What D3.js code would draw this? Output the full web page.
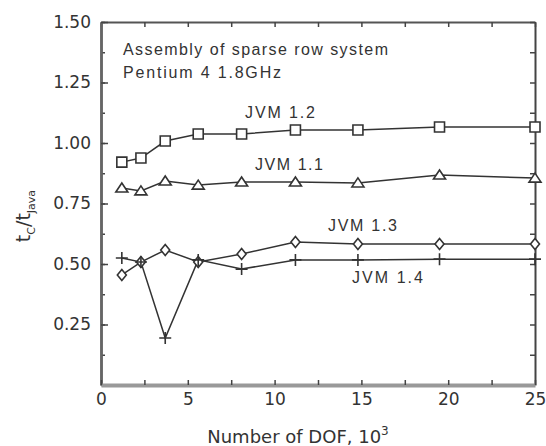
<!DOCTYPE html>
<html>
<head>
<meta charset="utf-8">
<script src="https://cdn.jsdelivr.net/npm/d3@7"></script>
<style>
  body { margin: 0; background: #fff; }
  text { font-family: "DejaVu Sans", "Liberation Sans", Arial, sans-serif; fill: #333; }
  .lab { font-family: "Liberation Sans", Arial, sans-serif; }
</style>
</head>
<body>
<svg id="chart" width="546" height="446"></svg>
<script>
// data (DOF in thousands)
const dof = [1.2, 2.3, 3.7, 5.6, 8.1, 11.2, 14.8, 19.5, 25];
const jvm12 = [0.921, 0.938, 1.008, 1.037, 1.037, 1.054, 1.054, 1.066, 1.066];
const jvm11 = [0.814, 0.802, 0.843, 0.826, 0.839, 0.839, 0.835, 0.868, 0.855];
const jvm13 = [0.455, 0.508, 0.558, 0.508, 0.541, 0.591, 0.583, 0.583, 0.583];
const jvm14 = [0.525, 0.508, 0.194, 0.517, 0.479, 0.517, 0.517, 0.52, 0.52];
const xTicks = [0, 5, 10, 15, 20, 25];
const yTicks = [0.25, 0.5, 0.75, 1.0, 1.25, 1.5];

const series = [
  { name: "JVM 1.2", values: jvm12, symbol: "square", label: [245, 118], w: 70 },
  { name: "JVM 1.1", values: jvm11, symbol: "triangle", label: [255, 170], w: 68 },
  { name: "JVM 1.3", values: jvm13, symbol: "diamond", label: [328, 231], w: 69 },
  { name: "JVM 1.4", values: jvm14, symbol: "plus", label: [352, 283], w: 71 },
];

const svg = d3.select("#chart");
const margin = { left: 101, right: 11, top: 22, bottom: 61 };
const width = 546 - margin.left - margin.right;
const height = 446 - margin.top - margin.bottom;

const x = d3.scaleLinear().domain([0, 25]).range([0, width]);
const y = d3.scaleLinear().domain([0, 1.5]).range([height, 0]);

const g = svg.append("g")
  .attr("transform", "translate(" + margin.left + "," + margin.top + ")");

// minor ticks every 2.5 / 0.125
const xMinor = d3.range(0, 25.01, 2.5);
const yMinor = d3.range(0, 1.501, 0.125);

function styleAxis(sel, col, w) {
  sel.select(".domain").attr("stroke", col).attr("stroke-width", w);
  sel.selectAll(".tick line").attr("stroke", "#444").attr("stroke-width", 1.5);
}

// top
g.append("g")
  .call(d3.axisTop(x).tickValues(xMinor).tickSize(-5).tickSizeOuter(0).tickFormat(""))
  .call(styleAxis, "#555", 2);
// right
g.append("g")
  .attr("transform", "translate(" + width + ",0)")
  .call(d3.axisRight(y).tickValues(yMinor).tickSize(-5).tickSizeOuter(0).tickFormat(""))
  .call(styleAxis, "#444", 2);
// left minor
g.append("g")
  .call(d3.axisLeft(y).tickValues(yMinor).tickSize(-4).tickSizeOuter(0).tickFormat(""))
  .call(styleAxis, "#666", 2.5);
// left major with labels
const yAxis = g.append("g")
  .call(d3.axisLeft(y).tickValues(yTicks).tickSize(-7).tickSizeOuter(0)
    .tickFormat(d3.format(".2f")).tickPadding(10))
  .call(styleAxis, "#666", 2.5);
yAxis.selectAll("text").attr("font-size", 17).attr("fill", "#333")
  .style("font-family", "'DejaVu Sans', sans-serif");
// bottom minor
g.append("g")
  .attr("transform", "translate(0," + height + ")")
  .call(d3.axisBottom(x).tickValues(xMinor).tickSize(-5).tickSizeOuter(0).tickFormat(""))
  .call(styleAxis, "#999", 4);
// bottom labels
const xAxis = g.append("g")
  .attr("transform", "translate(0," + height + ")")
  .call(d3.axisBottom(x).tickValues(xTicks).tickSize(0).tickPadding(8));
xAxis.select(".domain").remove();
xAxis.selectAll("text").attr("font-size", 17).attr("fill", "#333")
  .style("font-family", "'DejaVu Sans', sans-serif");

// axis titles
const xt = svg.append("text")
  .attr("x", 298).attr("y", 443)
  .attr("text-anchor", "middle")
  .attr("font-size", 18);
xt.append("tspan").text("Number of DOF, 10");
xt.append("tspan").attr("font-size", 12).attr("dy", -8).text("3");

const yt = svg.append("text")
  .attr("transform", "translate(30,216) rotate(-90)")
  .attr("text-anchor", "middle")
  .attr("font-size", 19);
yt.append("tspan").text("t");
yt.append("tspan").attr("font-size", 11).attr("dy", 5).text("C");
yt.append("tspan").attr("dy", -5).text("/t");
yt.append("tspan").attr("font-size", 11).attr("dy", 5).text("Java");

// annotation
svg.append("text").attr("class", "lab").attr("x", 123).attr("y", 55).attr("font-size", 16)
  .attr("textLength", 265).attr("lengthAdjust", "spacing")
  .text("Assembly of sparse row system");
svg.append("text").attr("class", "lab").attr("x", 123).attr("y", 78).attr("font-size", 16)
  .attr("textLength", 158).attr("lengthAdjust", "spacing")
  .text("Pentium 4 1.8GHz");

// lines
const line = d3.line()
  .x(function (d, i) { return x(dof[i]); })
  .y(function (d) { return y(d); });

series.forEach(function (s) {
  g.append("path")
    .datum(s.values)
    .attr("fill", "none")
    .attr("stroke", "#333")
    .attr("stroke-width", 1.5)
    .attr("d", line);
});

// markers
const symbols = {
  square: "M-5,-5H5V5H-5Z",
  triangle: "M0,-5L6,4H-6Z",
  diamond: "M0,-5.5L4.5,0L0,5.5L-4.5,0Z",
  plus: "M-6,0H6M0,-6V6",
};

series.forEach(function (s) {
  g.append("g")
    .selectAll(null)
    .data(s.values)
    .enter()
    .append("path")
    .attr("transform", function (d, i) {
      return "translate(" + x(dof[i]) + "," + y(d) + ")";
    })
    .attr("d", symbols[s.symbol])
    .attr("fill", s.symbol == "plus" ? "none" : "#fff")
    .attr("stroke", "#333")
    .attr("stroke-width", 1.6);

  svg.append("text")
    .attr("class", "lab")
    .attr("x", s.label[0]).attr("y", s.label[1])
    .attr("font-size", 16)
    .attr("textLength", s.w).attr("lengthAdjust", "spacing")
    .text(s.name);
});
</script>
</body>
</html>
